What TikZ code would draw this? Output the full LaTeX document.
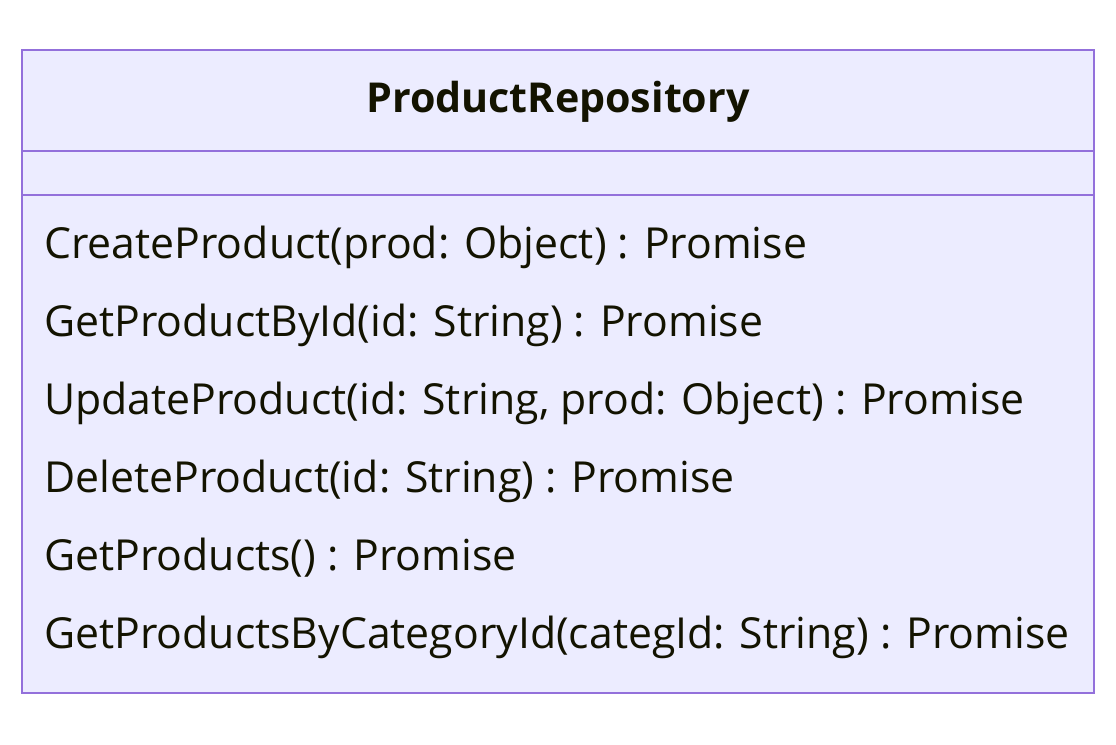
\documentclass[tikz,border=0pt]{standalone}
\usepackage{fontspec}
\setmainfont{Open Sans}
\definecolor{classFill}{HTML}{ECECFF}
\definecolor{classLine}{HTML}{9370DB}
\definecolor{classText}{HTML}{131300}
\newcommand\boxLeft{22}
\newcommand\boxRight{1094}
\newcommand\boxTop{50}
\newcommand\boxBottom{693}
\newcommand\titleSep{151}
\newcommand\attrSep{195}
\newcommand\methX{44}
\newcommand\methY{258}
\newcommand\methSep{78}
\tikzset{
  classbox/.style={draw=classLine, fill=classFill, line width=2pt},
  divider/.style={classLine, line width=2pt},
  methtext/.style={anchor=base west, inner sep=0pt, text=classText, font=\fontsize{30.4}{34}\selectfont},
  titletext/.style={anchor=base, inner sep=0pt, text=classText, font=\fontsize{29.3}{34}\selectfont\bfseries}
}

\begin{document}
\begin{tikzpicture}[x=0.025cm,y=-0.025cm]
    \useasboundingbox (0,0) rectangle (1116,744);

    % the class box
    \draw[classbox] (\boxLeft,\boxTop) rectangle (\boxRight,\boxBottom);
    \coordinate (titleL) at (\boxLeft,\titleSep);
    \coordinate (titleR) at (\boxRight,\titleSep);
    \coordinate (attrL) at (\boxLeft,\attrSep);
    \coordinate (attrR) at (\boxRight,\attrSep);
    \draw[divider] (titleL) -- (titleR);
    \draw[divider] (attrL) -- (attrR);

    % class name
    \node[titletext] (title) at (558,112) {ProductRepository};

    % methods
    \foreach \Mnumber/\Mtext in {1/{CreateProduct(prod: Object) : Promise},
        2/{GetProductById(id: String) : Promise},
        3/{UpdateProduct(id: String, prod: Object) : Promise},
        4/{DeleteProduct(id: String) : Promise},
        5/{GetProducts() : Promise},
        6/{GetProductsByCategoryId(categId: String) : Promise}}{
      \node[methtext] (meth\Mnumber) at (\methX,\methY+\methSep*\Mnumber-\methSep) {\Mtext};
    }

\end{tikzpicture}
\end{document}
